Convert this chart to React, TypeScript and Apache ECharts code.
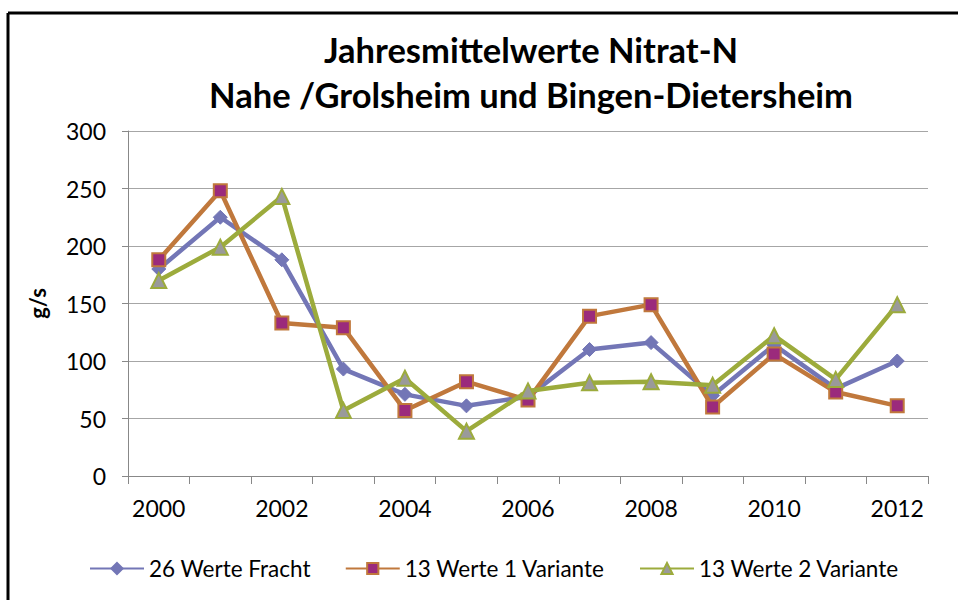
import React, { useEffect, useRef } from "react";
import * as echarts from "echarts";

const years = ["2000","2001","2002","2003","2004","2005","2006","2007","2008","2009","2010","2011","2012"];
const fracht26 = [180, 225, 188, 93, 71, 61, 69, 110, 116, 70, 114, 76, 100];
const variante1 = [188, 248, 133, 129, 57, 82, 66, 139, 149, 60, 106, 73, 61];
const variante2 = [170, 199, 243, 57, 85, 39, 74, 81, 82, 79, 122, 84, 149];
const seriesNames = ["26 Werte Fracht", "13 Werte 1 Variante", "13 Werte 2 Variante"];
const titleLines = ["Jahresmittelwerte Nitrat-N", "Nahe /Grolsheim und Bingen-Dietersheim"];
const yName = "g/s";

const FONT = "Lato";

export default function App() {
  const ref = useRef<HTMLDivElement>(null);
  useEffect(() => {
    if (!ref.current) return;
    const chart = echarts.init(ref.current, undefined, { renderer: "svg" });
    chart.setOption({
      animation: false,
      backgroundColor: "#ffffff",
      textStyle: { fontFamily: FONT },
      title: {
        text: titleLines.join("\n"),
        left: 526,
        textAlign: "center",
        top: 22,
        textStyle: { fontFamily: FONT, fontSize: 34.5, fontWeight: "bold", color: "#000", lineHeight: 45 },
      },
      graphic: [
        { type: "line", shape: { x1: 8, y1: 13, x2: 958, y2: 13 }, style: { stroke: "#000", lineWidth: 3 } },
        { type: "line", shape: { x1: 8, y1: 13, x2: 8, y2: 600 }, style: { stroke: "#000", lineWidth: 3 } },
      ],
      legend: {
        left: 84,
        top: 552,
        itemWidth: 54,
        itemHeight: 14,
        itemGap: 34,
        textStyle: { fontFamily: FONT, fontSize: 22.5, color: "#000" },
        data: seriesNames,
      },
      grid: { left: 128, right: 30, top: 131, bottom: 124, containLabel: false },
      xAxis: {
        type: "category",
        data: years,
        boundaryGap: true,
        axisLine: { lineStyle: { color: "#888888", width: 1 } },
        axisTick: { show: true, interval: 0, length: 8, lineStyle: { color: "#888888" } },
        axisLabel: { interval: 1, fontFamily: FONT, fontSize: 23, color: "#000", margin: 20 },
        splitLine: { show: false },
      },
      yAxis: {
        type: "value",
        min: 0,
        max: 300,
        interval: 50,
        name: yName,
        nameLocation: "middle",
        nameGap: 80,
        nameRotate: 90,
        nameTextStyle: { fontFamily: FONT, fontSize: 22, fontWeight: "bold", color: "#000" },
        axisLine: { show: true, lineStyle: { color: "#888888", width: 1 } },
        axisTick: { show: true, length: 6, lineStyle: { color: "#888888" } },
        axisLabel: { fontFamily: FONT, fontSize: 23, color: "#000", margin: 22 },
        splitLine: { show: true, lineStyle: { color: "#A6A6A6", width: 1 } },
      },
      series: [
        {
          name: seriesNames[0],
          type: "line",
          data: fracht26,
          symbol: "diamond",
          symbolSize: 14,
          lineStyle: { color: "#7376B6", width: 4.5 },
          itemStyle: { color: "#7376B6", borderColor: "#7376B6", borderWidth: 1 },
          z: 3,
        },
        {
          name: seriesNames[1],
          type: "line",
          data: variante1,
          symbol: "rect",
          symbolSize: 13,
          lineStyle: { color: "#C0783C", width: 4.5 },
          itemStyle: { color: "#9B2A7C", borderColor: "#C0783C", borderWidth: 2 },
          z: 4,
        },
        {
          name: seriesNames[2],
          type: "line",
          data: variante2,
          symbol: "triangle",
          symbolSize: 15,
          lineStyle: { color: "#9CAB3C", width: 4.5 },
          itemStyle: { color: "#9A9A9A", borderColor: "#9CAB3C", borderWidth: 2 },
          z: 5,
        },
      ],
    });
    return () => chart.dispose();
  }, []);
  return <div ref={ref} style={{ position: "absolute", left: 0, top: 0, width: 958, height: 600 }} />;
}
